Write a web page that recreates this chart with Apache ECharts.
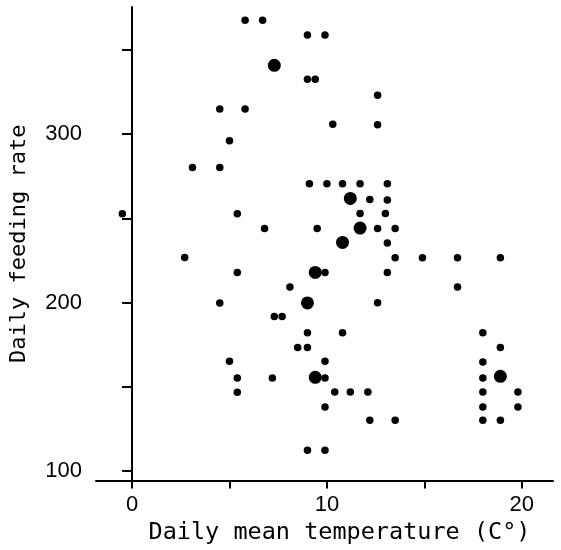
<!DOCTYPE html>
<html>
<head>
<meta charset="utf-8">
<script src="https://cdn.jsdelivr.net/npm/echarts@6/dist/echarts.min.js"></script>
<style>html,body{margin:0;padding:0;background:#fff}#c{width:561px;height:550px}</style>
</head>
<body>
<div id="c"></div>
<script>
// Small dots: daily mean temperature (°C) and daily feeding rate
const tempSmall = [5.8, 6.7, 9.0, 9.9, 9.0, 9.4, 4.5, 5.8, 12.6, 10.3, 12.6, 5.0, 3.1, 4.5,
  9.1, 10.0, 10.8, 11.7, 13.1, -0.5, 5.4, 11.7, 13.0, 12.2, 13.1, 6.8, 9.5, 12.6, 13.5,
  13.1, 2.7, 13.5, 14.9, 16.7, 18.9, 5.4, 9.9, 13.1, 8.1, 16.7, 4.5, 12.6, 7.3, 7.7,
  9.0, 10.8, 18.0, 8.5, 9.0, 18.9, 5.0, 9.9, 18.0, 5.4, 7.2, 9.9, 18.0, 5.4, 10.4, 11.2,
  12.1, 18.0, 19.8, 9.9, 18.0, 19.8, 12.2, 13.5, 18.0, 18.9, 9.0, 9.9];
const rateSmall = [367.5, 367.5, 358.8, 358.8, 332.5, 332.5, 314.8, 314.8, 323.1, 305.8, 305.5, 296.0, 280.1, 280.1,
  270.5, 270.5, 270.5, 270.5, 270.5, 252.7, 252.7, 252.9, 252.9, 261.2, 260.8, 244.0, 244.0, 244.0, 244.0,
  235.3, 226.8, 226.6, 226.6, 226.6, 226.6, 217.9, 217.9, 217.9, 209.2, 209.2, 199.7, 199.9, 191.7, 191.7,
  182.1, 182.1, 182.1, 173.4, 173.4, 173.4, 165.1, 165.1, 164.7, 155.2, 155.2, 155.2, 155.2, 146.7, 146.9, 146.9,
  146.9, 146.9, 146.9, 138.0, 138.0, 138.0, 130.1, 130.1, 130.1, 130.1, 112.3, 112.3];
// Large dots
const tempLarge = [7.3, 11.2, 11.7, 10.8, 9.4, 9.0, 9.4, 18.9];
const rateLarge = [340.8, 261.8, 244.2, 235.7, 217.9, 199.8, 155.6, 156.2];
// Axis ticks
const xTicks = [0, 5, 10, 15, 20];
const xLabels = [0, 10, 20];
const yTicks = [100, 150, 200, 250, 300, 350];
const yLabels = [100, 200, 300];

const zip = (a, b) => a.map((v, i) => [v, b[i]]);
const chart = echarts.init(document.getElementById('c'));
const ink = '#000';
chart.setOption({
  backgroundColor: '#fff',
  animation: false,
  grid: { left: 96, right: 8, top: 7, bottom: 69.5 },
  xAxis: {
    type: 'value', min: -1.85, max: 21.6,
    name: 'Daily mean temperature (C°)', nameLocation: 'middle', nameGap: 40,
    nameTextStyle: { fontFamily: 'DejaVu Sans Mono', fontSize: 23.5, color: ink, padding: [0, 0, 0, 30] },
    axisLine: { show: true, lineStyle: { color: ink, width: 2 } },
    axisTick: { show: true, length: 8, lineStyle: { color: ink, width: 2 }, customValues: xTicks },
    axisLabel: { fontFamily: 'Liberation Sans', fontSize: 22, color: ink, margin: 13, customValues: xLabels },
    splitLine: { show: false }
  },
  yAxis: {
    type: 'value', min: 94.4, max: 375.4,
    name: 'Daily feeding rate', nameLocation: 'middle', nameGap: 66, nameRotate: 90,
    nameTextStyle: { fontFamily: 'DejaVu Sans Mono', fontSize: 22, color: ink },
    axisLine: { show: true, lineStyle: { color: ink, width: 2 } },
    axisTick: { show: true, length: 10, lineStyle: { color: ink, width: 2 }, customValues: yTicks },
    axisLabel: { fontFamily: 'Liberation Sans', fontSize: 22, color: ink, margin: 14, customValues: yLabels },
    splitLine: { show: false }
  },
  series: [
    { type: 'scatter', data: zip(tempSmall, rateSmall), symbol: 'circle', symbolSize: 7.5,
      itemStyle: { color: ink, opacity: 1 } },
    { type: 'scatter', data: zip(tempLarge, rateLarge), symbol: 'circle', symbolSize: 13,
      itemStyle: { color: ink, opacity: 1 } }
  ]
});
</script>
</body>
</html>
